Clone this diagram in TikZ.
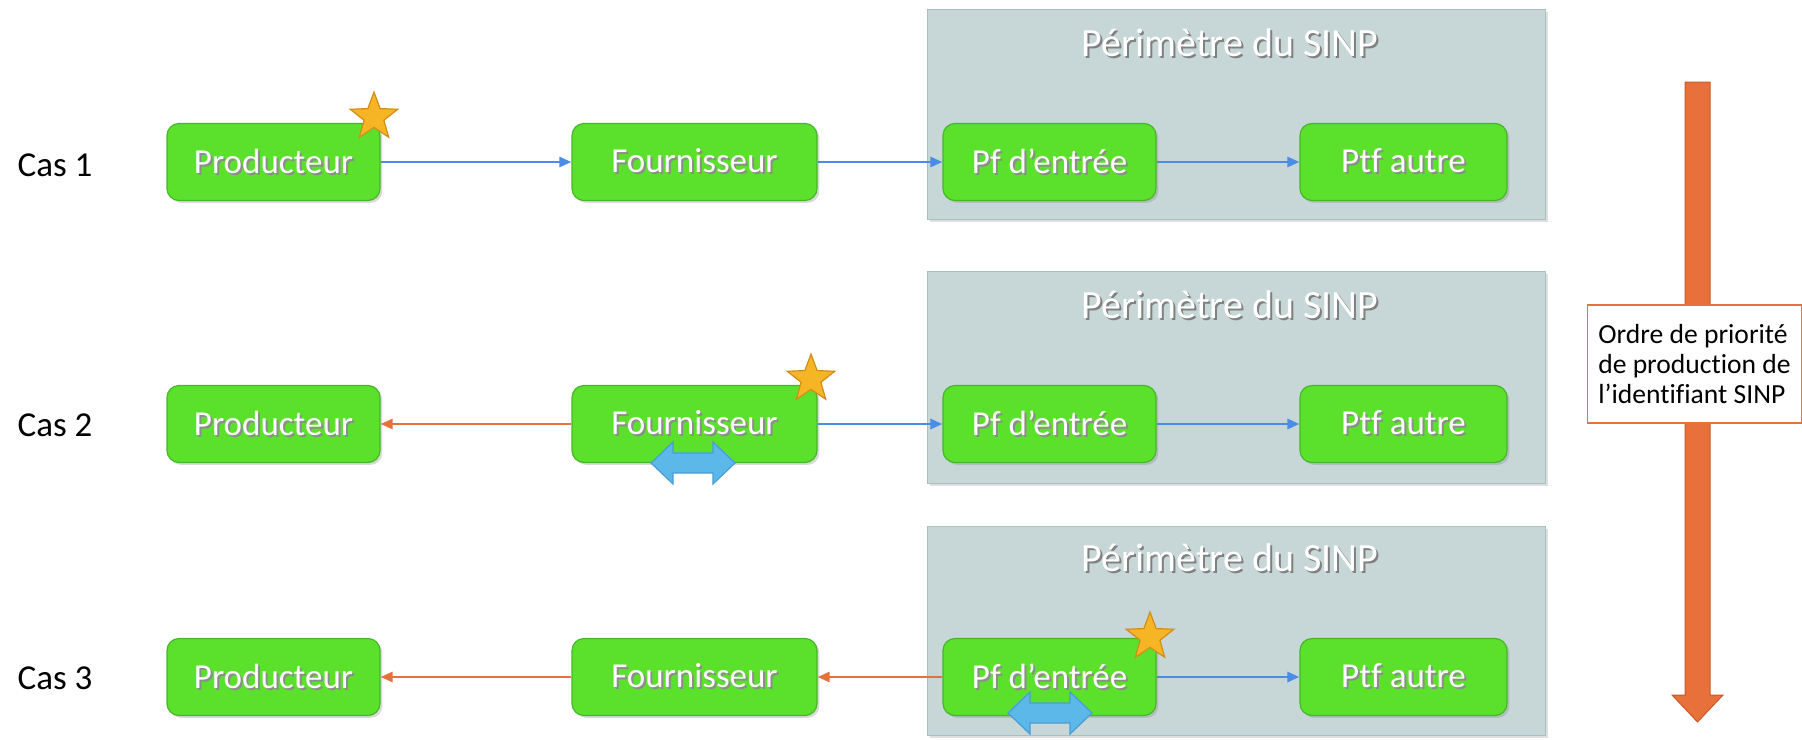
\documentclass[tikz,border=0pt]{standalone}
\usepackage{fontspec}
\setmainfont{Carlito}[Ligatures={NoCommon}]
\usetikzlibrary{shapes.geometric,shadows,arrows.meta}
\definecolor{boxgreen}{HTML}{5BE12C}
\definecolor{boxgreenedge}{HTML}{45B726}
\definecolor{sinpgray}{HTML}{C7D6D7}
\definecolor{sinpedge}{HTML}{A9BEBF}
\definecolor{linkblue}{HTML}{4A8CE6}
\definecolor{linkorange}{HTML}{E8703A}
\definecolor{starfill}{HTML}{F6B524}
\definecolor{staredge}{HTML}{D38C18}
\definecolor{dblfill}{HTML}{5DB8EA}
\definecolor{dbledge}{HTML}{4A9CD4}
\definecolor{bigorange}{HTML}{E8703A}
\definecolor{bigorangeedge}{HTML}{C75A28}
\newcommand\shtxt[2]{\rlap{\hspace{1pt}\raisebox{-1pt}{\textcolor{#1}{#2}}}\textcolor{white}{#2}}
\newcommand\dblarr[2]{\filldraw[dblshape] (#1-42,#2) -- (#1-20,#2-21) -- (#1-20,#2-10) -- (#1+20,#2-10) -- (#1+20,#2-21) -- (#1+42,#2) -- (#1+20,#2+21) -- (#1+20,#2+10) -- (#1-20,#2+10) -- (#1-20,#2+21) -- cycle;}
\begin{document}
\begin{tikzpicture}[x=0.5pt,y=-0.5pt,
  gbox/.style={rectangle, rounded corners=6pt, fill=boxgreen, draw=boxgreenedge, line width=0.6pt,
    minimum height=38.5pt, inner sep=0pt, font=\fontsize{17.5}{20}\selectfont,
    drop shadow={opacity=0.3, shadow xshift=1.2pt, shadow yshift=-1.2pt}},
  sinpbox/.style={rectangle, fill=sinpgray, draw=sinpedge, line width=0.5pt, inner sep=0pt,
    minimum width=309pt, drop shadow={opacity=0.25, shadow xshift=1.5pt, shadow yshift=-1.5pt}},
  sinptitle/.style={font=\fontsize{20}{24}\selectfont, inner sep=0pt},
  caslabel/.style={font=\fontsize{17.5}{20}\selectfont, inner sep=0pt, text=black},
  bluelink/.style={draw=linkblue, line width=1.3pt, -{Triangle[length=6pt,width=5pt]}},
  orangelink/.style={draw=linkorange, line width=1.3pt, -{Triangle[length=6pt,width=5pt]}},
  starmark/.style={star, star points=5, star point ratio=2.4, minimum size=25pt, inner sep=0pt,
    fill=starfill, draw=staredge, line width=0.6pt},
  dblshape/.style={fill=dblfill, draw=dbledge, line width=0.6pt},
  legendbox/.style={rectangle, draw=bigorange, fill=white, line width=0.8pt, minimum width=107pt,
    minimum height=59pt, inner sep=0pt, align=left, font=\fontsize{13.8}{15}\selectfont}
]
\useasboundingbox (0,0) rectangle (1802,739);

% SINP perimeters
\node[sinpbox, minimum height=105pt] (g1) at (1236,114) {};
\node[sinpbox, minimum height=106pt] (g2) at (1236,377) {};
\node[sinpbox, minimum height=104.5pt] (g3) at (1236,630.5) {};
\node[sinptitle] (t1) at (1230,44) {\shtxt{black!50}{Périmètre du SINP}};
\node[sinptitle] (t2) at (1230,306) {\shtxt{black!50}{Périmètre du SINP}};
\node[sinptitle] (t3) at (1230,559) {\shtxt{black!50}{Périmètre du SINP}};

% Case labels
\node[caslabel] (c1) at (55,165) {Cas 1};
\node[caslabel] (c2) at (55,425) {Cas 2};
\node[caslabel] (c3) at (55,678) {Cas 3};

% Row 1
\node[gbox, minimum width=106.5pt] (p1) at (273.5,162) {\shtxt{black!45}{Producteur}};
\node[gbox, minimum width=122.5pt] (f1) at (694.5,162) {\shtxt{black!45}{Fournisseur}};
\node[gbox, minimum width=106.5pt] (e1) at (1049.5,162) {\shtxt{black!45}{Pf d’entrée}};
\node[gbox, minimum width=103.5pt] (a1) at (1403.5,162) {\shtxt{black!45}{Ptf autre}};
\draw[bluelink] (p1) -- (f1);
\draw[bluelink] (f1) -- (e1);
\draw[bluelink] (e1) -- (a1);
\node[starmark] (s1) at (374,117) {};

% Row 2
\node[gbox, minimum width=106.5pt] (p2) at (273.5,424) {\shtxt{black!45}{Producteur}};
\node[gbox, minimum width=122.5pt] (f2) at (694.5,424) {\shtxt{black!45}{Fournisseur}};
\node[gbox, minimum width=106.5pt] (e2) at (1049.5,424) {\shtxt{black!45}{Pf d’entrée}};
\node[gbox, minimum width=103.5pt] (a2) at (1403.5,424) {\shtxt{black!45}{Ptf autre}};
\draw[orangelink] (f2) -- (p2);
\draw[bluelink] (f2) -- (e2);
\draw[bluelink] (e2) -- (a2);
\node[starmark] (s2) at (811,379) {};
\dblarr{693}{463}

% Row 3
\node[gbox, minimum width=106.5pt] (p3) at (273.5,677) {\shtxt{black!45}{Producteur}};
\node[gbox, minimum width=122.5pt] (f3) at (694.5,677) {\shtxt{black!45}{Fournisseur}};
\node[gbox, minimum width=106.5pt] (e3) at (1049.5,677) {\shtxt{black!45}{Pf d’entrée}};
\node[gbox, minimum width=103.5pt] (a3) at (1403.5,677) {\shtxt{black!45}{Ptf autre}};
\draw[orangelink] (f3) -- (p3);
\draw[orangelink] (e3) -- (f3);
\draw[bluelink] (e3) -- (a3);
\node[starmark] (s3) at (1150,637) {};
\dblarr{1050}{713}

% Priority arrow
\filldraw[fill=bigorange, draw=bigorangeedge, line width=0.5pt]
  (1685,82) -- (1710,82) -- (1710,695) -- (1723,695) -- (1697.5,722) -- (1672,695) -- (1685,695) -- cycle;
\node[legendbox] (leg) at (1694.5,364) {Ordre de priorité\\de production de\\l’identifiant SINP};
\end{tikzpicture}
\end{document}
